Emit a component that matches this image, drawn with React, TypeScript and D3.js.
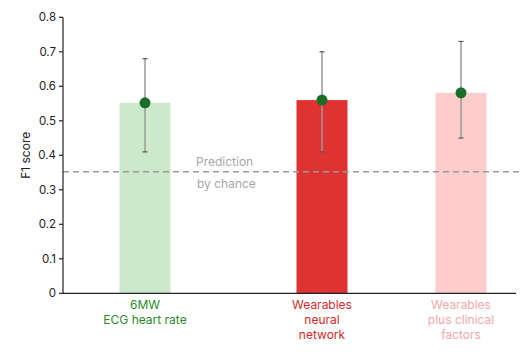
import React from "react";
import * as d3 from "d3";

const categories = ["6MW|ECG heart rate", "Wearables|neural|network", "Wearables|plus clinical|factors"];
const values = [0.552, 0.56, 0.581];
const lower = [0.41, 0.41, 0.45];
const upper = [0.68, 0.70, 0.73];
const yTicks = [0, 0.1, 0.2, 0.3, 0.4, 0.5, 0.6, 0.7, 0.8];
const chanceLevel = 0.352;
const barColors = ["#cde9cc", "#de3233", "#fdcccc"];
const labelColors = ["#2a8a2a", "#d42a2a", "#f2a9a9"];

export default function App() {
  const W = 531, H = 352;
  const left = 63, right = 516, top = 17.3, bottom = 293.3;
  const y = d3.scaleLinear().domain([0, 0.8]).range([bottom, top]);
  const x = d3.scaleOrdinal<string, number>().domain(categories).range([145, 322, 461]);
  const bw = 51;
  const font = "Inter, 'Open Sans', sans-serif";
  return (
    <svg width={W} height={H} style={{ position: "absolute", left: 0, top: 0 }} fontFamily={font}>
      <rect width={W} height={H} fill="#fff" />
      {categories.map((c, i) => (
        <rect key={c} x={x(c) - bw / 2} y={y(values[i])} width={bw} height={bottom - y(values[i])} fill={barColors[i]} />
      ))}
      <line x1={left} x2={522} y1={y(chanceLevel)} y2={y(chanceLevel)} stroke="#9a9a9a" strokeWidth={1.5} strokeDasharray="6,4" />
      <text x={196} y={y(chanceLevel) - 6} fontSize={12} fill="#a8a8a8">Prediction</text>
      <text x={197} y={y(chanceLevel) + 16} fontSize={12} fill="#a8a8a8">by chance</text>
      {categories.map((c, i) => {
        const cx = x(c);
        return (
          <g key={"e" + c}>
            <line x1={cx} x2={cx} y1={y(upper[i])} y2={y(lower[i])} stroke="#9a9a9a" strokeWidth={1.5} />
            <line x1={cx - 2.5} x2={cx + 2.5} y1={y(upper[i])} y2={y(upper[i])} stroke="#555" strokeWidth={1.2} />
            <line x1={cx - 2.5} x2={cx + 2.5} y1={y(lower[i])} y2={y(lower[i])} stroke="#555" strokeWidth={1.2} />
            <circle cx={cx} cy={y(values[i])} r={5.5} fill="#1b6e27" />
          </g>
        );
      })}
      <line x1={left} x2={left} y1={top} y2={bottom} stroke="#222" strokeWidth={1.2} />
      <line x1={left} x2={right} y1={bottom} y2={bottom} stroke="#222" strokeWidth={1.2} />
      {yTicks.map((t) => (
        <g key={t}>
          <line x1={left - 4} x2={left} y1={y(t)} y2={y(t)} stroke="#222" strokeWidth={1.2} />
          <text x={left - 7} y={y(t)} dy="0.35em" textAnchor="end" fontSize={11.5} fill="#222">{t === 0 ? "0" : t.toFixed(1)}</text>
        </g>
      ))}
      <text transform={`translate(30,${(top + bottom) / 2}) rotate(-90)`} textAnchor="middle" fontSize={12} fill="#222">F1 score</text>
      {categories.map((c, i) =>
        c.split("|").map((line, j) => (
          <text key={c + j} x={x(c)} y={309 + j * 15} textAnchor="middle" fontSize={12} fill={labelColors[i]}>{line}</text>
        ))
      )}
    </svg>
  );
}
